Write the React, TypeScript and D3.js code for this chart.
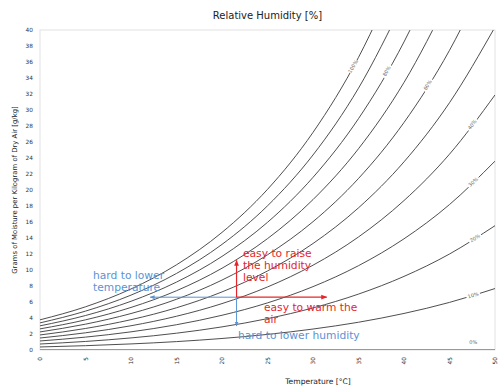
import React from "react";
import * as d3 from "d3";

const W = 498;
const H = 390;
const margin = { top: 30, right: 3, bottom: 40, left: 40 };

// temperature grid [°C]
const temps = [0, 5, 10, 15, 20, 25, 30, 35, 40, 45, 50];

// grams of moisture per kg dry air
const rh0 = [0, 0, 0, 0, 0, 0, 0, 0, 0, 0, 0];
const rh10 = [0.38, 0.54, 0.76, 1.05, 1.44, 1.95, 2.62, 3.47, 4.57, 5.95, 7.68];
const rh20 = [0.75, 1.07, 1.51, 2.1, 2.89, 3.92, 5.26, 6.99, 9.2, 12.0, 15.54];
const rh30 = [1.13, 1.61, 2.27, 3.16, 4.34, 5.89, 7.92, 10.54, 13.9, 18.18, 23.61];
const rh40 = [1.5, 2.15, 3.03, 4.22, 5.8, 7.88, 10.6, 14.13, 18.68, 24.48, 31.88];
const rh50 = [1.88, 2.69, 3.79, 5.28, 7.26, 9.88, 13.31, 17.77, 23.52, 30.91, 40.37];
const rh60 = [2.26, 3.23, 4.56, 6.34, 8.74, 11.9, 16.04, 21.44, 28.44, 37.46, 49.08];
const rh70 = [2.64, 3.77, 5.32, 7.41, 10.22, 13.92, 18.8, 25.16, 33.44, 44.15];
const rh80 = [3.02, 4.31, 6.09, 8.49, 11.7, 15.96, 21.58, 28.92, 38.51, 50.97];
const rh90 = [3.39, 4.86, 6.86, 9.57, 13.2, 18.02, 24.38, 32.73, 43.66];
const rh100 = [3.77, 5.4, 7.63, 10.65, 14.7, 20.08, 27.2, 36.58, 48.89];

const levels = [0, 10, 20, 30, 40, 50, 60, 70, 80, 90, 100];
const curves = [rh0, rh10, rh20, rh30, rh40, rh50, rh60, rh70, rh80, rh90, rh100];

// inline curve labels: which level, at what temperature
const labelLevels = [100, 80, 60, 40, 30, 20, 10, 0];
const labelTemps = [34.4, 38.1, 42.6, 47.5, 47.6, 47.8, 47.6, 47.6];

const xTicks = [0, 5, 10, 15, 20, 25, 30, 35, 40, 45, 50];
const yTicks = d3.range(0, 41, 2);

// annotation: starting state and arrow ends
const origin = { t: 21.6, g: 6.6 };
const raiseTo = 11.2;
const warmTo = 31.5;
const coolTo = 12.1;
const dryTo = 3.0;

const RED = "#e4262c";
const BLUE = "#5a93d4";
const FONT = "DejaVu Sans, Verdana, sans-serif";

export default function App() {
  const x = d3.scaleLinear().domain([0, 50]).range([margin.left, W - margin.right]);
  const y = d3.scaleLinear().domain([0, 40]).range([H - margin.bottom, margin.top]);

  const line = d3
    .line<[number, number]>()
    .x((d) => x(d[0]))
    .y((d) => y(d[1]))
    .curve(d3.curveMonotoneX);

  const valueAt = (vals: number[], t: number) => {
    const i = Math.min(Math.floor(t / 5), vals.length - 2);
    const f = (t - temps[i]) / 5;
    return vals[i] + (vals[i + 1] - vals[i]) * f;
  };

  const ox = x(origin.t);
  const oy = y(origin.g);

  return (
    <svg
      width={W}
      height={H}
      style={{ position: "absolute", left: 0, top: 0, background: "#fff", fontFamily: FONT }}
    >
      <defs>
        <clipPath id="plot">
          <rect x={margin.left} y={margin.top} width={W - margin.left - margin.right} height={H - margin.top - margin.bottom} />
        </clipPath>
        <marker id="headR" viewBox="0 0 10 10" refX="9" refY="5" markerWidth="5" markerHeight="5" orient="auto">
          <path d="M0,1 L10,5 L0,9 z" fill={RED} />
        </marker>
        <marker id="headB" viewBox="0 0 10 10" refX="9" refY="5" markerWidth="5" markerHeight="5" orient="auto">
          <path d="M0,1 L10,5 L0,9 z" fill={BLUE} />
        </marker>
      </defs>

      {/* frame */}
      <rect
        x={margin.left}
        y={margin.top}
        width={W - margin.left - margin.right}
        height={H - margin.top - margin.bottom}
        fill="none"
        stroke="#e2e2e2"
        strokeWidth={1}
      />

      {/* title */}
      <text x={(margin.left + W - margin.right) / 2} y={19} textAnchor="middle" fontSize={10} fill="#222">
        Relative Humidity [%]
      </text>

      {/* y ticks */}
      {yTicks.map((v) => (
        <text key={v} x={33} y={y(v)} dy="0.35em" textAnchor="end" fontSize={5.8} fill="#333">
          {v}
        </text>
      ))}
      <text
        transform={`translate(17,${(margin.top + H - margin.bottom) / 2}) rotate(-90)`}
        textAnchor="middle"
        fontSize={6.9}
        fill="#222"
      >
        Grams of Moisture per Kilogram of Dry Air [g/kg]
      </text>

      {/* x ticks */}
      {xTicks.map((v) => (
        <text
          key={v}
          transform={`translate(${x(v)},357) rotate(-90)`}
          textAnchor="end"
          dy="0.35em"
          fontSize={5.8}
          fill="#333"
        >
          {v}
        </text>
      ))}
      <text x={318} y={384} textAnchor="middle" fontSize={7.6} fill="#222">
        Temperature [°C]
      </text>

      {/* humidity curves */}
      <g clipPath="url(#plot)">
        {curves.map((vals, i) => (
          <path
            key={levels[i]}
            d={line(vals.map((v, j) => [temps[j], v] as [number, number])) || ""}
            fill="none"
            stroke={levels[i] === 0 ? "#999" : "#3a3a3a"}
            strokeWidth={levels[i] === 0 ? 2 : 0.9}
          />
        ))}
      </g>

      {/* curve labels */}
      {labelLevels.map((lv, k) => {
        const vals = curves[levels.indexOf(lv)];
        const t = labelTemps[k];
        const px = x(t);
        const py = y(valueAt(vals, t)) - (lv === 0 ? 8 : 0);
        const dx = x(t + 0.5) - x(t - 0.5);
        const dyv = y(valueAt(vals, t + 0.5)) - y(valueAt(vals, t - 0.5));
        const ang = (Math.atan2(dyv, dx) * 180) / Math.PI;
        return (
          <g key={lv} transform={`translate(${px},${py}) rotate(${ang})`}>
            <rect x={-7} y={-3.5} width={14} height={7} fill="#fff" />
            <text textAnchor="middle" dy="0.35em" fontSize={5} fill="#666">
              {lv}%
            </text>
          </g>
        );
      })}

      {/* annotations */}
      <line x1={ox} y1={oy} x2={x(coolTo)} y2={oy} stroke={BLUE} strokeWidth={1} markerEnd="url(#headB)" />
      <line x1={ox} y1={oy} x2={ox} y2={y(dryTo)} stroke={BLUE} strokeWidth={1} markerEnd="url(#headB)" />
      <line x1={ox} y1={oy} x2={ox} y2={y(raiseTo)} stroke={RED} strokeWidth={1.2} markerEnd="url(#headR)" />
      <line x1={ox} y1={oy} x2={x(warmTo)} y2={oy} stroke={RED} strokeWidth={1.2} markerEnd="url(#headR)" />

      <text fontSize={10.7} fill={RED}>
        <tspan x={243} y={257}>easy to raise</tspan>
        <tspan x={243} y={269}>the humidity</tspan>
        <tspan x={243} y={281}>level</tspan>
      </text>
      <text fontSize={10.7} fill={RED}>
        <tspan x={264} y={311}>easy to warm the</tspan>
        <tspan x={264} y={323}>air</tspan>
      </text>
      <text fontSize={10.7} fill={BLUE}>
        <tspan x={93} y={279}>hard to lower</tspan>
        <tspan x={93} y={291}>temperature</tspan>
      </text>
      <text x={238} y={339} fontSize={10.7} fill={BLUE}>
        hard to lower humidity
      </text>
    </svg>
  );
}
